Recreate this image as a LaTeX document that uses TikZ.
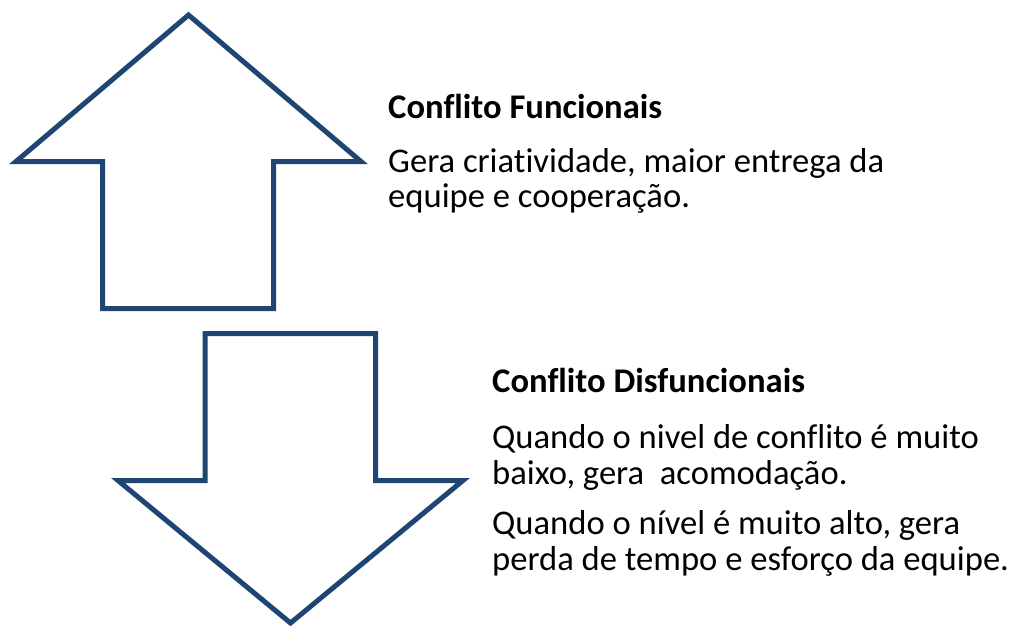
\documentclass[tikz,border=0pt]{standalone}
\usepackage{fontspec}
\setmainfont[Ligatures=NoCommon]{Carlito}
\definecolor{arrowblue}{HTML}{1F4573}
\begin{document}
\begin{tikzpicture}[x=1pt,y=-1pt,
  arrowshape/.style={draw=arrowblue,line width=5pt,line join=miter,fill=white},
  txt/.style={anchor=base west,inner sep=0pt,font=\fontsize{34.6}{36}\selectfont},
  head/.style={txt,font=\fontsize{34.6}{36}\selectfont\bfseries}]
\useasboundingbox (0,0) rectangle (1010,626);
% up arrow
\draw[arrowshape] (188.5,15) -- (361,161.5) -- (273.5,161.5) -- (273.5,308.5)
  -- (102.5,308.5) -- (102.5,161.5) -- (16,161.5) -- cycle;
% down arrow
\draw[arrowshape] (205,333.5) -- (375.5,333.5) -- (375.5,480.5) -- (463,480.5)
  -- (290.5,623) -- (118,480.5) -- (205,480.5) -- cycle;
% texts
\node[head] (h1) at (388,118) {Conflito Funcionais};
\node[txt] (t1) at (388,172) {Gera criatividade, maior entrega da};
\node[txt] (t2) at (388,207.5) {equipe e cooperação.};
\node[head] (h2) at (492,392.5) {Conflito Disfuncionais};
\node[txt] (t3) at (492,448.5) {Quando o nivel de conflito é muito};
\node[txt] (t4) at (492,484) {baixo, gera\ \ acomodação.};
\node[txt] (t5) at (492,534) {Quando o nível é muito alto, gera};
\node[txt] (t6) at (492,570) {perda de tempo e esforço da equipe.};
\end{tikzpicture}
\end{document}
